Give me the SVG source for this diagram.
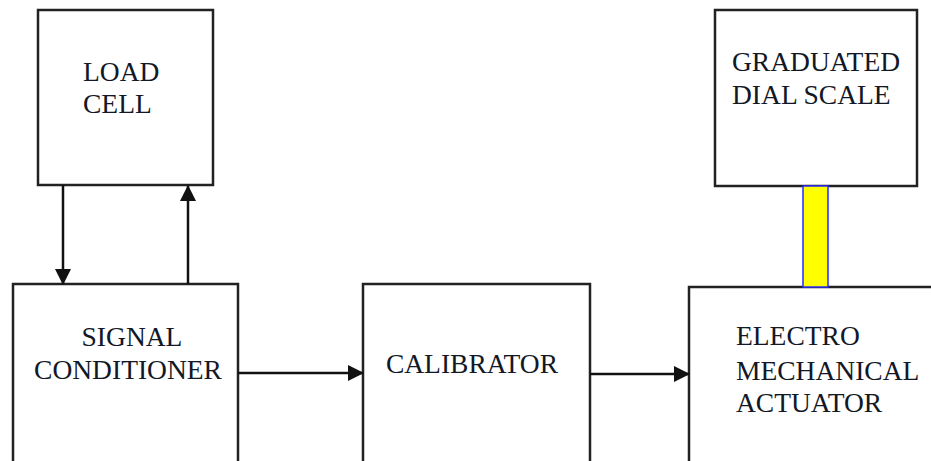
<svg xmlns="http://www.w3.org/2000/svg" width="931" height="461" viewBox="0 0 931 461">
  <style>
    .box { fill: #ffffff; stroke: #222222; stroke-width: 2.5; }
    .lbl { font-family: "Liberation Serif", "Times New Roman", serif; font-size: 27.5px; fill: #121826; }
    .wire { fill: none; stroke: #111111; stroke-width: 2.5; }
    .link { fill: #ffff00; stroke: #2a2aff; stroke-width: 1.5; }
  </style>
  <defs>
    <marker id="arrow" viewBox="0 0 16 16" refX="15" refY="8" markerWidth="16" markerHeight="16" markerUnits="userSpaceOnUse" orient="auto">
      <path d="M0,0 L16,8 L0,16 Z" fill="#111111"/>
    </marker>
  </defs>
  <rect width="931" height="461" fill="#ffffff"/>

  <g id="load-cell">
    <rect class="box" x="38" y="10" width="175" height="175"/>
    <text class="lbl" x="83" y="81">LOAD</text>
    <text class="lbl" x="83" y="113">CELL</text>
  </g>

  <g id="signal-conditioner">
    <rect class="box" x="13" y="284" width="225" height="182"/>
    <text class="lbl" x="132" y="346" text-anchor="middle">SIGNAL</text>
    <text class="lbl" x="128" y="379" text-anchor="middle">CONDITIONER</text>
  </g>

  <g id="calibrator">
    <rect class="box" x="363" y="284" width="227" height="182"/>
    <text class="lbl" x="472" y="373" text-anchor="middle">CALIBRATOR</text>
  </g>

  <g id="graduated-dial-scale">
    <rect class="box" x="715" y="10" width="202" height="176"/>
    <text class="lbl" x="732" y="71">GRADUATED</text>
    <text class="lbl" x="732" y="104">DIAL SCALE</text>
  </g>

  <g id="electro-mechanical-actuator">
    <rect class="box" x="689" y="287" width="260" height="180"/>
    <text class="lbl" x="736" y="345">ELECTRO</text>
    <text class="lbl" x="736" y="380">MECHANICAL</text>
    <text class="lbl" x="736" y="412">ACTUATOR</text>
  </g>

  <g id="connectors">
    <line class="wire" x1="63" y1="185" x2="63" y2="284" marker-end="url(#arrow)"/>
    <line class="wire" x1="188" y1="284" x2="188" y2="186" marker-end="url(#arrow)"/>
    <line class="wire" x1="238" y1="373" x2="363" y2="373" marker-end="url(#arrow)"/>
    <line class="wire" x1="590" y1="374" x2="689" y2="374" marker-end="url(#arrow)"/>
    <rect class="link" x="803" y="186" width="25" height="101"/>
  </g>
</svg>
